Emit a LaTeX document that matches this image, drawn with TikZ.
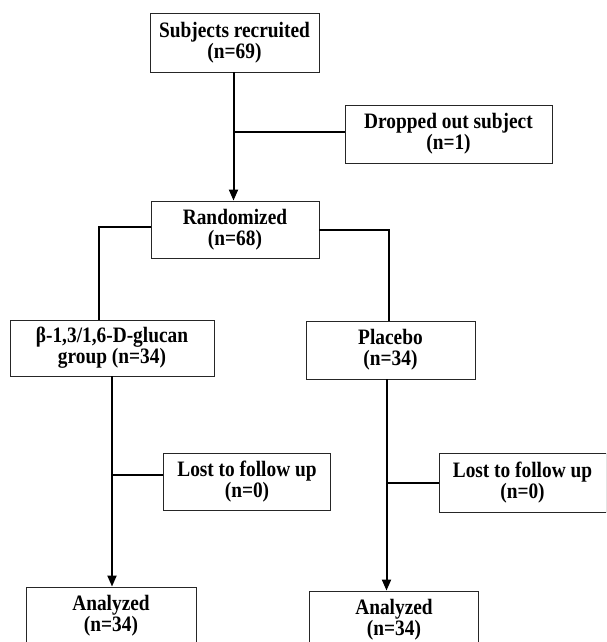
\documentclass[tikz,border=0pt]{standalone}
\usepackage{fontspec}
\setmainfont{Liberation Serif}[FakeStretch=0.88]
\usetikzlibrary{arrows.meta}
\tikzset{
  box/.style={draw=black!85, line width=0.9pt, rectangle, align=center, inner sep=0pt,
    font=\fontsize{22}{21}\selectfont\bfseries},
  conn/.style={line width=2pt, black},
  arr/.style={conn, -{Triangle[length=11pt,width=9pt]}}
}
\begin{document}
\begin{tikzpicture}[x=1pt,y=-1pt]
\path[use as bounding box] (0,0) rectangle (606,642);
\clip (0,0) rectangle (606,642);
\node[box, minimum width=169pt, minimum height=59pt] (sub) at (234.5,42.5) {Subjects recruited\\(n=69)};
\node[box, minimum width=207pt, minimum height=58pt] (drop) at (448.5,134) {Dropped out subject\\(n=1)};
\node[box, minimum width=168pt, minimum height=57pt] (rand) at (235,229.5) {Randomized\\(n=68)};
\node[box, minimum width=204pt, minimum height=56pt] (beta) at (112,348) {β-1,3/1,6-D-glucan\\group (n=34)};
\node[box, minimum width=169pt, minimum height=58pt] (plac) at (390.5,350) {Placebo\\(n=34)};
\node[box, minimum width=167.5pt, minimum height=57pt] (lostA) at (247,481.5) {Lost to follow up\\(n=0)};
\node[box, minimum width=167pt, minimum height=59pt] (lostB) at (522.5,482.5) {Lost to follow up\\(n=0)};
\node[box, minimum width=170pt, minimum height=57pt] (anA) at (111,615.5) {Analyzed\\(n=34)};
\node[box, minimum width=168.5pt, minimum height=57pt] (anB) at (394,619.5) {Analyzed\\(n=34)};
\coordinate (pspine) at ([xshift=-4pt]plac.south);

\draw[arr] ([xshift=-1pt]sub.south) -- ([xshift=-1pt]sub.south |- rand.north);
\draw[conn] ([yshift=2pt]drop.west) -- ([yshift=2pt]drop.west -| sub.south);
\draw[conn] ([yshift=2.5pt]rand.west) -| ([xshift=-13pt]beta.north);
\draw[conn] (rand.east) -| ([xshift=-1.5pt]plac.north);
\draw[arr] (beta.south) -- (beta.south |- anA.north);
\draw[conn] ([yshift=6.5pt]lostA.west) -- ([yshift=6.5pt]lostA.west -| beta.south);
\draw[arr] (pspine) -- (pspine |- anB.north);
\draw[conn] (lostB.west) -- (lostB.west -| pspine);
\end{tikzpicture}
\end{document}
